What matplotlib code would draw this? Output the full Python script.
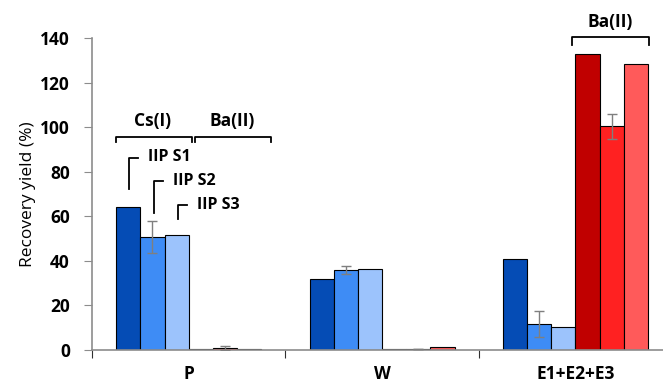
import matplotlib
matplotlib.use("Agg")
import matplotlib.pyplot as plt
import numpy as np

plt.rcParams['font.family'] = ['Open Sans', 'DejaVu Sans']

categories = ["P", "W", "E1+E2+E3"]
cs_s1 = [64.0, 31.9, 40.7]
cs_s2 = [50.8, 35.8, 11.7]
cs_s3 = [51.6, 36.2, 10.2]
ba_s1 = [0.4, 0.3, 132.6]
ba_s2 = [1.0, 0.3, 100.3]
ba_s3 = [0.4, 1.5, 128.3]
cs_s2_err = [7.2, 1.9, 5.7]
ba_s2_err = [1.0, 0.0, 5.5]

series = [cs_s1, cs_s2, cs_s3, ba_s1, ba_s2, ba_s3]
errors = [None, cs_s2_err, None, None, ba_s2_err, None]
colors = ["#054cb5", "#3e8cf5", "#9cc3fc", "#c00000", "#ff2121", "#ff5a5a"]

fig = plt.figure(figsize=(6.63, 3.85), dpi=100)
ax = fig.add_axes([0.1388, 0.0909, 0.875, 0.8104])

x = np.arange(len(categories))
w = 0.125
for i, (vals, err, c) in enumerate(zip(series, errors, colors)):
    pos = x - 0.375 + w * (i + 0.5)
    ax.bar(pos, vals, width=w, color=c, edgecolor="black", linewidth=0.8, zorder=2)
    if err is not None:
        ax.errorbar(pos, vals, yerr=err, fmt="none", ecolor="#7f7f7f",
                    elinewidth=1, capsize=3.5, capthick=1, zorder=3)

ax.set_xlim(-0.5, 2.5)
ax.set_ylim(0, 140)
ax.set_yticks(np.arange(0, 141, 20))
for s in ["top", "right"]:
    ax.spines[s].set_visible(False)
for s in ["left", "bottom"]:
    ax.spines[s].set_color("#8c8c8c")
    ax.spines[s].set_linewidth(1.2)
ax.tick_params(axis="y", direction="out", length=6, color="#8c8c8c", labelsize=12.5, pad=10)
for t in ax.get_yticklabels():
    t.set_fontweight("bold")
ax.set_xticks([-0.5, 0.5, 1.5, 2.5])
ax.set_xticklabels([])
ax.set_xticks(x, minor=True)
ax.set_xticklabels(categories, minor=True, fontweight="bold", fontsize=12.5)
ax.tick_params(axis="x", which="major", direction="out", length=6, color="#303030")
ax.tick_params(axis="x", which="minor", length=0, pad=11)
ax.set_ylabel("Recovery yield (%)", fontsize=12.5, labelpad=3)

lk = dict(color="black", linewidth=1.3, clip_on=False, zorder=4)
def bracket(x0, x1, y, tip):
    ax.plot([x0, x0, x1, x1], [y - tip, y, y, y - tip], **lk)

bracket(-0.378, 0.018, 95.7, 2.4)
bracket(0.032, 0.425, 95.7, 2.4)
bracket(1.984, 2.380, 140.3, 3.3)
tk = dict(fontsize=12.5, fontweight="bold", ha="center", va="center", clip_on=False)
ax.text(-0.185, 102.6, "Cs(I)", **tk)
ax.text(0.227, 102.6, "Ba(II)", **tk)
ax.text(2.182, 147.3, "Ba(II)", **tk)

leaders = [(-0.309, 72.2, 86.3, -0.262, -0.211, "IIP S1"),
           (-0.178, 61.6, 75.8, -0.133, -0.083, "IIP S2"),
           (-0.057, 58.8, 64.9, -0.009, 0.041, "IIP S3")]
for xv, y0, y1, xh, xt, lab in leaders:
    ax.plot([xv, xv, xh], [y0, y1, y1], **lk)
    ax.text(xt, y1 + 0.2, lab, fontsize=11.5, fontweight="bold", ha="left", va="center")

fig.savefig("out.png", dpi=100)
